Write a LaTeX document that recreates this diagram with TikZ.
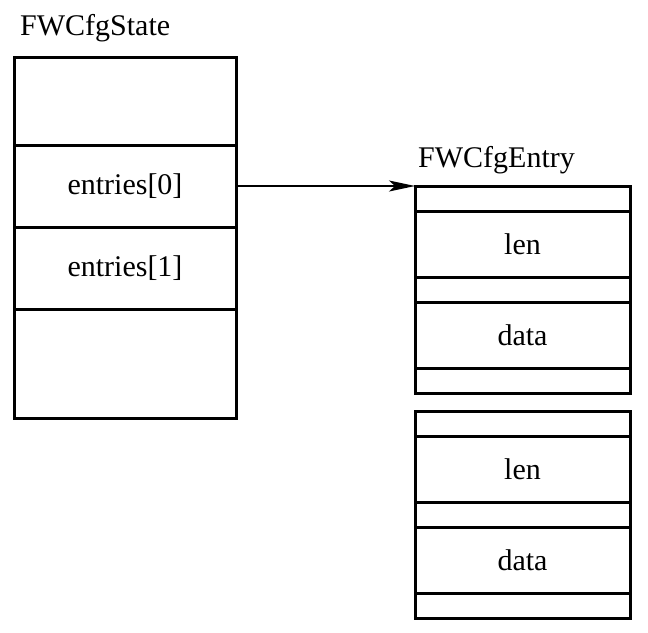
\documentclass[tikz,border=0pt]{standalone}
\usepackage{fontspec}
\newfontfamily\boxfont{LiberationSerif-Regular.ttf}
\usetikzlibrary{positioning, arrows.meta}

\begin{document}
\begin{tikzpicture}[x=1pt, y=1pt,
        field/.style={draw, line width=3pt, outer sep=0pt, inner sep=0pt,
            font=\boxfont\fontsize{30}{35}\selectfont},
        statefield/.style={field, minimum width=222pt},
        entryfield/.style={field, minimum width=215pt},
        title/.style={anchor=base west, inner sep=0pt, font=\boxfont\fontsize{30}{35}\selectfont}]
        \useasboundingbox (0,0) rectangle (648,-632);

        % FWCfgState
        \node[statefield, minimum height=88pt, anchor=north west] (s0) at (14,-57) {};
        \node[statefield, minimum height=82pt, below=0pt of s0] (s1) {entries[0]};
        \node[statefield, minimum height=82pt, below=0pt of s1] (s2) {entries[1]};
        \node[statefield, minimum height=109pt, below=0pt of s2] (s3) {};
        \node[title] (statename) at ([shift={(6,22)}]s0.north west) {FWCfgState};

        % FWCfgEntry array
        \foreach \i/\top in {0/186, 1/411} {
            \node[entryfield, minimum height=25pt, anchor=north west] (e\i a) at (415,-\top) {};
            \node[entryfield, minimum height=66pt, below=0pt of e\i a] (e\i b) {len};
            \node[entryfield, minimum height=25pt, below=0pt of e\i b] (e\i c) {};
            \node[entryfield, minimum height=66pt, below=0pt of e\i c] (e\i d) {data};
            \node[entryfield, minimum height=25pt, below=0pt of e\i d] (e\i e) {};
        }
        \node[title] (entryname) at ([shift={(3,19)}]e0a.north west) {FWCfgEntry};

        \draw[-{Stealth[length=26pt, width=11pt, inset=6pt]}, line width=1.6pt]
            (s1.east) -- (s1.east -| e0a.west);
    \end{tikzpicture}
\end{document}
